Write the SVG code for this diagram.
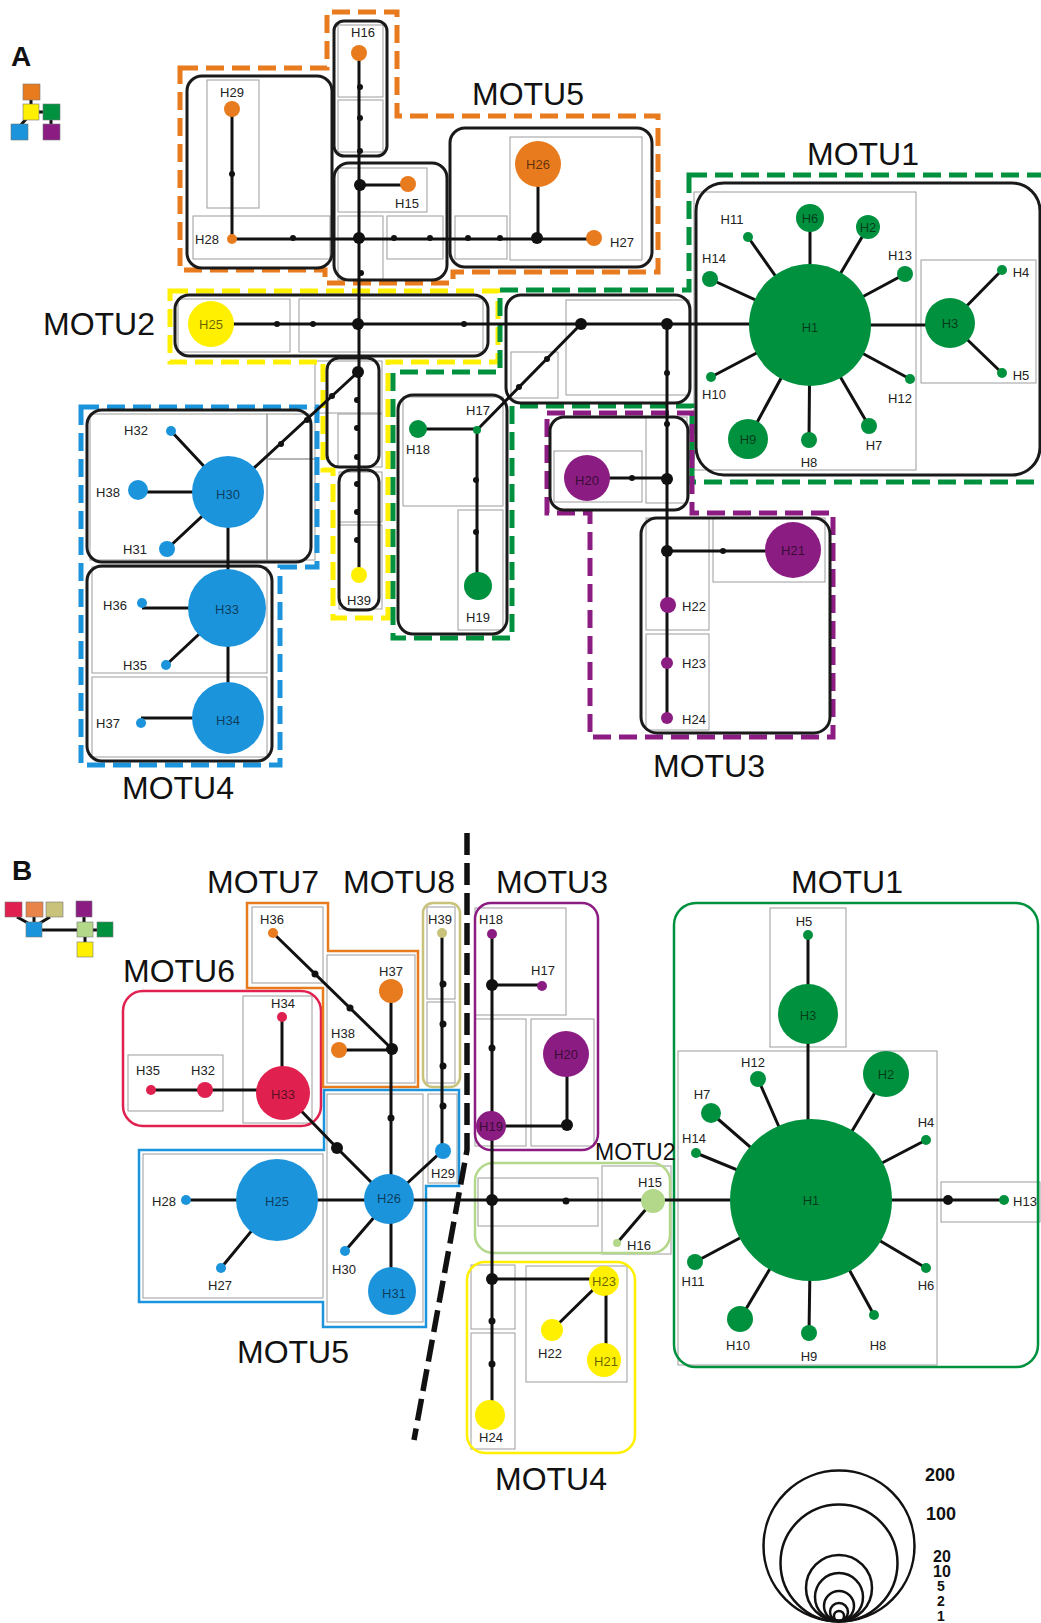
<svg xmlns="http://www.w3.org/2000/svg" width="1041" height="1623" viewBox="0 0 1041 1623">
<style>
.box{fill:none;stroke:#1a1a1a;stroke-width:3}
.gr{fill:none;stroke:#9c9c9c;stroke-width:1}
.ln{fill:none;stroke:#111;stroke-width:3}
.dot{fill:#111}
.dash{fill:none;stroke-width:5;stroke-dasharray:18 8}
.ol{fill:none;stroke-width:2.5}
.lbl{font-family:"Liberation Sans",Arial,sans-serif;font-size:13px;fill:#222;text-anchor:middle;dominant-baseline:central}
.in{font-family:"Liberation Sans",Arial,sans-serif;font-size:13px;fill:#000;fill-opacity:.6;text-anchor:middle;dominant-baseline:central}
.big{font-family:"Liberation Sans",Arial,sans-serif;font-size:32px;fill:#111}
.pl{font-family:"Liberation Sans",Arial,sans-serif;font-size:28px;font-weight:bold;fill:#111}
.sz{font-family:"Liberation Sans",Arial,sans-serif;font-weight:bold;fill:#111}
.or{fill:#E87B1E}.ye{fill:#FFF000}.gn{fill:#00913F}.bl{fill:#1C94DC}.pu{fill:#8B1D82}.rd{fill:#E0204F}.kh{fill:#C8C27A}.lg{fill:#B3D88A}
.sq{stroke:#777;stroke-width:.6}
</style>

<!-- ================= PANEL A ================= -->
<text class="pl" x="11" y="66">A</text>
<g id="legendA">
<path class="ln" d="M31,100V104M39,112H43M27,118L20,126M51,120V124" stroke-width="2.5"/>
<rect class="or sq" x="23" y="84" width="17" height="16"/>
<rect class="ye sq" x="23" y="104" width="16" height="16"/>
<rect class="gn sq" x="43" y="104" width="17" height="16"/>
<rect class="bl sq" x="11" y="124" width="17" height="16"/>
<rect class="pu sq" x="43" y="124" width="17" height="16"/>
</g>

<g id="A-grid">
<rect class="gr" x="207" y="80" width="52" height="128"/>
<rect class="gr" x="193" y="216" width="137" height="43"/>
<rect class="gr" x="338" y="25" width="45" height="72"/>
<rect class="gr" x="338" y="100" width="45" height="52"/>
<rect class="gr" x="338" y="168" width="89" height="44"/>
<rect class="gr" x="338" y="216" width="45" height="64"/>
<rect class="gr" x="387" y="216" width="56" height="43"/>
<rect class="gr" x="455" y="216" width="52" height="43"/>
<rect class="gr" x="510" y="137" width="132" height="123"/>
<rect class="gr" x="178" y="299" width="112" height="53"/>
<rect class="gr" x="299" y="299" width="184" height="53"/>
<rect class="gr" x="566" y="300" width="123" height="95"/>
<rect class="gr" x="511" y="352" width="47" height="46"/>
<rect class="gr" x="694" y="192" width="222" height="278"/>
<rect class="gr" x="921" y="260" width="115" height="123"/>
<rect class="gr" x="90" y="414" width="177" height="146"/>
<rect class="gr" x="267" y="414" width="48" height="45"/>
<rect class="gr" x="267" y="459" width="48" height="101"/>
<rect class="gr" x="92" y="567" width="175" height="106"/>
<rect class="gr" x="92" y="677" width="175" height="80"/>
<rect class="gr" x="315" y="361" width="67" height="52"/>
<rect class="gr" x="338" y="414" width="44" height="53"/>
<rect class="gr" x="339" y="472" width="43" height="50"/>
<rect class="gr" x="339" y="525" width="43" height="84"/>
<rect class="gr" x="403" y="397" width="100" height="109"/>
<rect class="gr" x="458" y="510" width="45" height="120"/>
<rect class="gr" x="554" y="451" width="88" height="51"/>
<rect class="gr" x="646" y="417" width="41" height="86"/>
<rect class="gr" x="646" y="518" width="63" height="112"/>
<rect class="gr" x="646" y="634" width="63" height="96"/>
<rect class="gr" x="713" y="518" width="112" height="64"/>
</g>

<g id="A-motu-boundaries">
<polygon id="A-MOTU5" class="dash" stroke="#E87B1E" points="180,68 327,68 327,12 397,12 397,116 658,116 658,272 453,272 453,283 325,283 325,270 180,270"/>
<polygon id="A-MOTU2" class="dash" stroke="#FFF000" points="170,291 498,291 498,362 388,362 388,618 333,618 333,470 323,470 323,362 170,362"/>
<polygon id="A-MOTU1" class="dash" stroke="#00913F" points="689,175 1046,175 1046,482 692,482 692,406 512,406 512,638 393,638 393,372 500,372 500,290 689,290"/>
<polygon id="A-MOTU4" class="dash" stroke="#1C94DC" points="81,407 317,407 317,567 280,567 280,765 81,765"/>
<polygon id="A-MOTU3" class="dash" stroke="#8B1D82" points="547,413 692,413 692,513 833,513 833,737 590,737 590,513 547,513"/>
</g>

<g id="A-boxes">
<rect class="box" x="187" y="76" width="145" height="192" rx="15"/>
<rect class="box" x="334" y="21" width="53" height="135" rx="10"/>
<rect class="box" x="334" y="163" width="113" height="117" rx="15"/>
<rect class="box" x="450" y="128" width="202" height="139" rx="15"/>
<rect class="box" x="175" y="295" width="313" height="61" rx="14"/>
<rect class="box" x="327" y="358" width="52" height="109" rx="12"/>
<rect class="box" x="339" y="470" width="40" height="140" rx="12"/>
<rect class="box" x="87" y="410" width="224" height="152" rx="15"/>
<rect class="box" x="87" y="566" width="185" height="195" rx="15"/>
<rect class="box" x="398" y="395" width="109" height="239" rx="15"/>
<rect class="box" x="506" y="295" width="184" height="108" rx="15"/>
<rect class="box" x="696" y="183" width="344" height="292" rx="28"/>
<rect class="box" x="550" y="417" width="138" height="93" rx="14"/>
<rect class="box" x="641" y="518" width="189" height="215" rx="16"/>
</g>

<g id="A-connectors">
<path class="ln" d="M359,53V575"/>
<path class="ln" d="M360,185H408"/>
<path class="ln" d="M232,109V239H594"/>
<path class="ln" d="M538,164V238"/>
<path class="ln" d="M211,324H810"/>
<path class="ln" d="M581,324L477,430"/>
<path class="ln" d="M667,324V718"/>
<path class="ln" d="M587,478H667"/>
<path class="ln" d="M667,551H793"/>
<path class="ln" d="M418,429H477V586"/>
<path class="ln" d="M228,492L358,372"/>
<path class="ln" d="M228,492L171,431M228,492H138M228,492L167,549M228,492V718"/>
<path class="ln" d="M227,608H142M227,608L166,665M228,718H141"/>
<path class="ln" d="M810,325L810,218M810,325L868,227M810,325L748,237M810,325L710,279M810,325L905,274M810,325L711,377M810,325L910,379M810,325L748,439M810,325L809,440M810,325L869,426M810,325H950M950,323L1002,270M950,323L1002,373"/>
</g>

<g id="A-junctions">
<circle class="dot" cx="360" cy="185" r="6"/>
<circle class="dot" cx="359" cy="238" r="6"/>
<circle class="dot" cx="358" cy="324" r="6"/>
<circle class="dot" cx="358" cy="372" r="6"/>
<circle class="dot" cx="537" cy="238" r="6"/>
<circle class="dot" cx="581" cy="324" r="6"/>
<circle class="dot" cx="667" cy="324" r="6"/>
<circle class="dot" cx="667" cy="479" r="6"/>
<circle class="dot" cx="667" cy="551" r="6"/>
<circle class="dot" cx="360" cy="87" r="3"/>
<circle class="dot" cx="360" cy="118" r="3"/>
<circle class="dot" cx="360" cy="151" r="3"/>
<circle class="dot" cx="293" cy="238" r="3"/>
<circle class="dot" cx="232" cy="174" r="3"/>
<circle class="dot" cx="394" cy="238" r="3"/>
<circle class="dot" cx="430" cy="238" r="3"/>
<circle class="dot" cx="468" cy="238" r="3"/>
<circle class="dot" cx="500" cy="238" r="3"/>
<circle class="dot" cx="361" cy="273" r="3"/>
<circle class="dot" cx="277" cy="324" r="3"/>
<circle class="dot" cx="313" cy="324" r="3"/>
<circle class="dot" cx="464" cy="324" r="3"/>
<circle class="dot" cx="547" cy="359" r="3"/>
<circle class="dot" cx="519" cy="387" r="3"/>
<circle class="dot" cx="667" cy="373" r="3"/>
<circle class="dot" cx="667" cy="424" r="3"/>
<circle class="dot" cx="632" cy="478" r="3"/>
<circle class="dot" cx="723" cy="551" r="3"/>
<circle class="dot" cx="476" cy="480" r="3"/>
<circle class="dot" cx="476" cy="532" r="3"/>
<circle class="dot" cx="281" cy="444" r="3"/>
<circle class="dot" cx="307" cy="420" r="3"/>
<circle class="dot" cx="332" cy="396" r="3"/>
<circle class="dot" cx="357" cy="400" r="3"/>
<circle class="dot" cx="357" cy="428" r="3"/>
<circle class="dot" cx="357" cy="457" r="3"/>
<circle class="dot" cx="357" cy="484" r="3"/>
<circle class="dot" cx="357" cy="512" r="3"/>
<circle class="dot" cx="357" cy="540" r="3"/>
</g>

<g id="A-nodes">
<g id="A-H16"><circle class="or" cx="359" cy="53" r="8"/><text class="lbl" x="363" y="32">H16</text></g>
<g id="A-H29"><circle class="or" cx="232" cy="109" r="8"/><text class="lbl" x="232" y="92">H29</text></g>
<g id="A-H28"><circle class="or" cx="232" cy="239" r="5"/><text class="lbl" x="207" y="239">H28</text></g>
<g id="A-H15"><circle class="or" cx="408" cy="184" r="8"/><text class="lbl" x="407" y="203">H15</text></g>
<g id="A-H26"><circle class="or" cx="538" cy="164" r="23"/><text class="in" x="538" y="164">H26</text></g>
<g id="A-H27"><circle class="or" cx="594" cy="238" r="8"/><text class="lbl" x="622" y="242">H27</text></g>
<g id="A-H25"><circle class="ye" cx="211" cy="324" r="23"/><text class="in" x="211" y="324">H25</text></g>
<g id="A-H39"><circle class="ye" cx="359" cy="575" r="8"/><text class="lbl" x="359" y="600">H39</text></g>
<g id="A-H1"><circle class="gn" cx="810" cy="325" r="61"/><text class="in" x="810" y="327">H1</text></g>
<g id="A-H6"><circle class="gn" cx="810" cy="218" r="14"/><text class="in" x="810" y="218">H6</text></g>
<g id="A-H2"><circle class="gn" cx="868" cy="227" r="12"/><text class="in" x="868" y="227">H2</text></g>
<g id="A-H11"><circle class="gn" cx="748" cy="237" r="5"/><text class="lbl" x="732" y="219">H11</text></g>
<g id="A-H14"><circle class="gn" cx="710" cy="279" r="8"/><text class="lbl" x="714" y="258">H14</text></g>
<g id="A-H13"><circle class="gn" cx="905" cy="274" r="8"/><text class="lbl" x="900" y="255">H13</text></g>
<g id="A-H10"><circle class="gn" cx="711" cy="377" r="5"/><text class="lbl" x="714" y="394">H10</text></g>
<g id="A-H12"><circle class="gn" cx="910" cy="379" r="5"/><text class="lbl" x="900" y="398">H12</text></g>
<g id="A-H9"><circle class="gn" cx="748" cy="439" r="20"/><text class="in" x="748" y="439">H9</text></g>
<g id="A-H8"><circle class="gn" cx="809" cy="440" r="8"/><text class="lbl" x="809" y="462">H8</text></g>
<g id="A-H7"><circle class="gn" cx="869" cy="426" r="8"/><text class="lbl" x="874" y="445">H7</text></g>
<g id="A-H3"><circle class="gn" cx="950" cy="323" r="25"/><text class="in" x="950" y="323">H3</text></g>
<g id="A-H4"><circle class="gn" cx="1002" cy="270" r="5"/><text class="lbl" x="1021" y="272">H4</text></g>
<g id="A-H5"><circle class="gn" cx="1002" cy="373" r="5"/><text class="lbl" x="1021" y="375">H5</text></g>
<g id="A-H17"><circle class="gn" cx="477" cy="430" r="4"/><text class="lbl" x="478" y="410">H17</text></g>
<g id="A-H18"><circle class="gn" cx="418" cy="429" r="9"/><text class="lbl" x="418" y="449">H18</text></g>
<g id="A-H19"><circle class="gn" cx="478" cy="586" r="14"/><text class="lbl" x="478" y="617">H19</text></g>
<g id="A-H30"><circle class="bl" cx="228" cy="492" r="36"/><text class="in" x="228" y="494">H30</text></g>
<g id="A-H32"><circle class="bl" cx="171" cy="431" r="5"/><text class="lbl" x="136" y="430">H32</text></g>
<g id="A-H38"><circle class="bl" cx="138" cy="490" r="10"/><text class="lbl" x="108" y="492">H38</text></g>
<g id="A-H31"><circle class="bl" cx="167" cy="549" r="8"/><text class="lbl" x="135" y="549">H31</text></g>
<g id="A-H33"><circle class="bl" cx="227" cy="608" r="39"/><text class="in" x="227" y="609">H33</text></g>
<g id="A-H36"><circle class="bl" cx="142" cy="603" r="5"/><text class="lbl" x="115" y="605">H36</text></g>
<g id="A-H35"><circle class="bl" cx="166" cy="665" r="5"/><text class="lbl" x="135" y="665">H35</text></g>
<g id="A-H34"><circle class="bl" cx="228" cy="718" r="36"/><text class="in" x="228" y="720">H34</text></g>
<g id="A-H37"><circle class="bl" cx="141" cy="723" r="5"/><text class="lbl" x="108" y="723">H37</text></g>
<g id="A-H20"><circle class="pu" cx="587" cy="478" r="23"/><text class="in" x="587" y="480">H20</text></g>
<g id="A-H21"><circle class="pu" cx="793" cy="550" r="28"/><text class="in" x="793" y="550">H21</text></g>
<g id="A-H22"><circle class="pu" cx="668" cy="605" r="8"/><text class="lbl" x="694" y="606">H22</text></g>
<g id="A-H23"><circle class="pu" cx="667" cy="663" r="6"/><text class="lbl" x="694" y="663">H23</text></g>
<g id="A-H24"><circle class="pu" cx="667" cy="718" r="6"/><text class="lbl" x="694" y="719">H24</text></g>
</g>

<g id="A-labels">
<text class="big" x="472" y="105">MOTU5</text>
<text class="big" x="807" y="165">MOTU1</text>
<text class="big" x="43" y="335">MOTU2</text>
<text class="big" x="122" y="799">MOTU4</text>
<text class="big" x="653" y="777">MOTU3</text>
</g>

<!-- ================= PANEL B ================= -->
<text class="pl" x="12" y="880">B</text>
<g id="legendB">
<path class="ln" d="M17,917L28,923M34,917V922M50,917L40,923M42,930H77M84,917V922M93,930H97M85,937V942" stroke-width="2.5"/>
<rect class="rd sq" x="5" y="902" width="17" height="15"/>
<rect class="sq" fill="#E8844A" x="26" y="902" width="17" height="15"/>
<rect class="kh sq" x="46" y="902" width="17" height="15"/>
<rect class="pu sq" x="76" y="901" width="16" height="16"/>
<rect class="bl sq" x="26" y="922" width="16" height="15"/>
<rect class="lg sq" x="77" y="922" width="16" height="15"/>
<rect class="gn sq" x="97" y="922" width="16" height="15"/>
<rect class="ye sq" x="77" y="942" width="16" height="15"/>
</g>

<g id="B-grid">
<rect class="gr" x="770" y="908" width="76" height="139"/>
<rect class="gr" x="678" y="1051" width="259" height="314"/>
<rect class="gr" x="941" y="1182" width="99" height="40"/>
<rect class="gr" x="475" y="908" width="91" height="107"/>
<rect class="gr" x="475" y="1019" width="51" height="127"/>
<rect class="gr" x="531" y="1019" width="63" height="127"/>
<rect class="gr" x="478" y="1178" width="120" height="48"/>
<rect class="gr" x="602" y="1166" width="69" height="88"/>
<rect class="gr" x="471" y="1265" width="44" height="64"/>
<rect class="gr" x="471" y="1333" width="44" height="116"/>
<rect class="gr" x="526" y="1266" width="101" height="116"/>
<rect class="gr" x="143" y="1154" width="180" height="144"/>
<rect class="gr" x="327" y="1094" width="96" height="228"/>
<rect class="gr" x="428" y="1094" width="29" height="89"/>
<rect class="gr" x="252" y="907" width="71" height="76"/>
<rect class="gr" x="327" y="955" width="88" height="128"/>
<rect class="gr" x="427" y="907" width="28" height="92"/>
<rect class="gr" x="427" y="1002" width="28" height="81"/>
<rect class="gr" x="128" y="1055" width="95" height="56"/>
<rect class="gr" x="243" y="996" width="69" height="127"/>
</g>

<g id="B-motu-boundaries">
<rect id="B-MOTU1" class="ol" stroke="#00913F" x="674" y="903" width="364" height="464" rx="22"/>
<rect id="B-MOTU3" class="ol" stroke="#8B1D82" x="475" y="903" width="123" height="247" rx="16"/>
<rect id="B-MOTU2" class="ol" stroke="#B3D88A" x="475" y="1163" width="195" height="90" rx="18"/>
<rect id="B-MOTU4" class="ol" stroke="#FFF000" x="467" y="1262" width="168" height="191" rx="18"/>
<rect id="B-MOTU8" class="ol" stroke="#C8C27A" x="423" y="903" width="37" height="184" rx="10"/>
<rect id="B-MOTU6" class="ol" stroke="#E0204F" x="123" y="991" width="198" height="135" rx="20"/>
<polygon id="B-MOTU7" class="ol" stroke="#E87B1E" points="247,903 328,903 328,951 418,951 418,1087 323,1087 323,988 247,988"/>
<polygon id="B-MOTU5" class="ol" stroke="#1C94DC" points="139,1150 324,1150 324,1090 459,1090 459,1186 426,1186 426,1327 323,1327 323,1302 139,1302"/>
</g>

<path id="B-divider" d="M467,833V1150L414,1440" fill="none" stroke="#111" stroke-width="5.5" stroke-dasharray="22 8"/>

<g id="B-connectors">
<path class="ln" d="M273,933L392,1049"/>
<path class="ln" d="M391,991V1200"/>
<path class="ln" d="M339,1050H392"/>
<path class="ln" d="M442,933V1151L389,1200"/>
<path class="ln" d="M282,1017V1092"/>
<path class="ln" d="M151,1090H283"/>
<path class="ln" d="M283,1092L337,1148L389,1200"/>
<path class="ln" d="M186,1200H1004"/>
<path class="ln" d="M277,1200L221,1268M389,1200L345,1251M391,1200V1291"/>
<path class="ln" d="M492,934V1415"/>
<path class="ln" d="M492,985H542"/>
<path class="ln" d="M492,1126H567V1054"/>
<path class="ln" d="M653,1201L617,1243"/>
<path class="ln" d="M492,1279H604L552,1330M606,1280V1360"/>
<path class="ln" d="M808,935V1200M811,1200L758,1079M811,1200L886,1074M811,1200L711,1113M811,1200L696,1153M811,1200L926,1140M811,1200L695,1262M811,1200L926,1268M811,1200L740,1319M811,1200L809,1333M811,1200L874,1315"/>
</g>

<g id="B-junctions">
<circle class="dot" cx="392" cy="1049" r="6"/>
<circle class="dot" cx="337" cy="1148" r="6"/>
<circle class="dot" cx="492" cy="985" r="6"/>
<circle class="dot" cx="567" cy="1125" r="6"/>
<circle class="dot" cx="492" cy="1200" r="6"/>
<circle class="dot" cx="492" cy="1279" r="6"/>
<circle class="dot" cx="948" cy="1200" r="5"/>
<circle class="dot" cx="315" cy="974" r="3.5"/>
<circle class="dot" cx="350" cy="1008" r="3.5"/>
<circle class="dot" cx="391" cy="1118" r="3.5"/>
<circle class="dot" cx="443" cy="984" r="3.5"/>
<circle class="dot" cx="443" cy="1024" r="3.5"/>
<circle class="dot" cx="443" cy="1066" r="3.5"/>
<circle class="dot" cx="443" cy="1106" r="3.5"/>
<circle class="dot" cx="492" cy="1048" r="3.5"/>
<circle class="dot" cx="566" cy="1201" r="3.5"/>
<circle class="dot" cx="492" cy="1321" r="3.5"/>
<circle class="dot" cx="492" cy="1364" r="3.5"/>
</g>

<g id="B-nodes">
<g id="B-H34"><circle class="rd" cx="282" cy="1017" r="5"/><text class="lbl" x="283" y="1003">H34</text></g>
<g id="B-H33"><circle class="rd" cx="283" cy="1093" r="27"/><text class="in" x="283" y="1094">H33</text></g>
<g id="B-H32"><circle class="rd" cx="205" cy="1090" r="8"/><text class="lbl" x="203" y="1070">H32</text></g>
<g id="B-H35"><circle class="rd" cx="151" cy="1090" r="5"/><text class="lbl" x="148" y="1070">H35</text></g>
<g id="B-H36"><circle class="or" cx="273" cy="933" r="5"/><text class="lbl" x="272" y="919">H36</text></g>
<g id="B-H37"><circle class="or" cx="391" cy="991" r="12"/><text class="lbl" x="391" y="971">H37</text></g>
<g id="B-H38"><circle class="or" cx="339" cy="1050" r="8"/><text class="lbl" x="343" y="1033">H38</text></g>
<g id="B-H39"><circle class="kh" cx="442" cy="933" r="5"/><text class="lbl" x="440" y="919">H39</text></g>
<g id="B-H29"><circle class="bl" cx="443" cy="1151" r="8"/><text class="lbl" x="443" y="1173">H29</text></g>
<g id="B-H26"><circle class="bl" cx="389" cy="1199" r="25"/><text class="in" x="389" y="1198">H26</text></g>
<g id="B-H25"><circle class="bl" cx="277" cy="1200" r="41"/><text class="in" x="277" y="1201">H25</text></g>
<g id="B-H28"><circle class="bl" cx="186" cy="1200" r="5"/><text class="lbl" x="164" y="1201">H28</text></g>
<g id="B-H27"><circle class="bl" cx="221" cy="1268" r="5"/><text class="lbl" x="220" y="1285">H27</text></g>
<g id="B-H30"><circle class="bl" cx="345" cy="1251" r="5"/><text class="lbl" x="344" y="1269">H30</text></g>
<g id="B-H31"><circle class="bl" cx="392" cy="1291" r="24"/><text class="in" x="394" y="1293">H31</text></g>
<g id="B-H18"><circle class="pu" cx="492" cy="934" r="5"/><text class="lbl" x="491" y="919">H18</text></g>
<g id="B-H17"><circle class="pu" cx="542" cy="986" r="5"/><text class="lbl" x="543" y="970">H17</text></g>
<g id="B-H19"><circle class="pu" cx="491" cy="1126" r="15"/><text class="in" x="491" y="1126">H19</text></g>
<g id="B-H20"><circle class="pu" cx="566" cy="1054" r="23"/><text class="in" x="566" y="1054">H20</text></g>
<g id="B-H15"><circle class="lg" cx="653" cy="1201" r="12"/><text class="lbl" x="650" y="1182">H15</text></g>
<g id="B-H16"><circle class="lg" cx="617" cy="1243" r="4"/><text class="lbl" x="639" y="1245">H16</text></g>
<g id="B-H23"><circle class="ye" cx="604" cy="1281" r="15"/><text class="in" x="604" y="1281">H23</text></g>
<g id="B-H22"><circle class="ye" cx="552" cy="1330" r="11"/><text class="lbl" x="550" y="1353">H22</text></g>
<g id="B-H21"><circle class="ye" cx="604" cy="1360" r="17"/><text class="in" x="606" y="1361">H21</text></g>
<g id="B-H24"><circle class="ye" cx="490" cy="1415" r="15"/><text class="lbl" x="491" y="1437">H24</text></g>
<g id="B-H1"><circle class="gn" cx="811" cy="1200" r="81"/><text class="in" x="811" y="1200">H1</text></g>
<g id="B-H3"><circle class="gn" cx="808" cy="1014" r="30"/><text class="in" x="808" y="1015">H3</text></g>
<g id="B-H5"><circle class="gn" cx="808" cy="935" r="5"/><text class="lbl" x="804" y="921">H5</text></g>
<g id="B-H12"><circle class="gn" cx="758" cy="1079" r="8"/><text class="lbl" x="753" y="1062">H12</text></g>
<g id="B-H2"><circle class="gn" cx="886" cy="1074" r="23"/><text class="in" x="886" y="1074">H2</text></g>
<g id="B-H7"><circle class="gn" cx="711" cy="1113" r="10"/><text class="lbl" x="702" y="1094">H7</text></g>
<g id="B-H14"><circle class="gn" cx="696" cy="1153" r="5"/><text class="lbl" x="694" y="1138">H14</text></g>
<g id="B-H4"><circle class="gn" cx="926" cy="1140" r="5"/><text class="lbl" x="926" y="1122">H4</text></g>
<g id="B-H11"><circle class="gn" cx="695" cy="1262" r="8"/><text class="lbl" x="693" y="1281">H11</text></g>
<g id="B-H6"><circle class="gn" cx="926" cy="1268" r="5"/><text class="lbl" x="926" y="1285">H6</text></g>
<g id="B-H10"><circle class="gn" cx="740" cy="1319" r="13"/><text class="lbl" x="738" y="1345">H10</text></g>
<g id="B-H9"><circle class="gn" cx="809" cy="1333" r="8"/><text class="lbl" x="809" y="1356">H9</text></g>
<g id="B-H8"><circle class="gn" cx="874" cy="1315" r="5"/><text class="lbl" x="878" y="1345">H8</text></g>
<g id="B-H13"><circle class="gn" cx="1004" cy="1200" r="5"/><text class="lbl" x="1025" y="1201">H13</text></g>
</g>

<g id="B-labels">
<text class="big" x="207" y="893">MOTU7</text>
<text class="big" x="343" y="893">MOTU8</text>
<text class="big" x="496" y="893">MOTU3</text>
<text class="big" x="791" y="893">MOTU1</text>
<text class="big" x="123" y="982">MOTU6</text>
<text class="big" x="595" y="1160" style="font-size:23px">MOTU2</text>
<text class="big" x="237" y="1363">MOTU5</text>
<text class="big" x="495" y="1490">MOTU4</text>
</g>

<g id="size-legend" fill="none" stroke="#111" stroke-width="2.5">
<circle cx="839" cy="1546" r="75.5"/>
<circle cx="839" cy="1563" r="58.5"/>
<circle cx="839" cy="1588" r="33"/>
<circle cx="839" cy="1597" r="24"/>
<circle cx="839" cy="1606" r="15"/>
<circle cx="839" cy="1612" r="9"/>
<circle cx="839" cy="1616" r="5"/>
</g>
<g id="size-legend-labels">
<text class="sz" x="925" y="1481" font-size="18">200</text>
<text class="sz" x="926" y="1520" font-size="18">100</text>
<text class="sz" x="933" y="1562" font-size="16">20</text>
<text class="sz" x="933" y="1577" font-size="16">10</text>
<text class="sz" x="937" y="1591" font-size="14">5</text>
<text class="sz" x="937" y="1606" font-size="14">2</text>
<text class="sz" x="937" y="1621" font-size="14">1</text>
</g>
</svg>
